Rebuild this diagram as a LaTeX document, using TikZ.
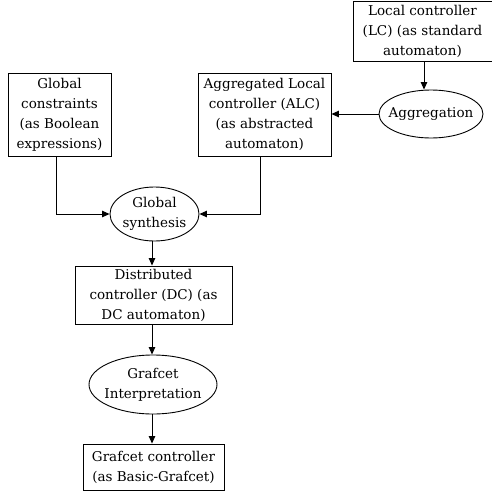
\documentclass[tikz,border=0pt]{standalone}
\usepackage{fontspec}
\setmainfont{DejaVu Serif}
\usetikzlibrary{shapes.geometric,arrows.meta}
\begin{document}
\begin{tikzpicture}[x=1pt,y=-1pt,
  every node/.style={font=\fontsize{13.5}{20}\selectfont, align=center, inner sep=0pt},
  box/.style={draw, line width=0.9pt, rectangle},
  oval/.style={draw, line width=0.9pt, ellipse, inner xsep=-12pt, inner ysep=-10pt},
  conn/.style={line width=0.9pt, -{Triangle[length=7.5pt,width=6.5pt]}}]
\useasboundingbox (0,0) rectangle (492,493);
\node[box, minimum width=139pt, minimum height=60pt] (lc) at (422.5,31) {Local controller\\(LC) (as standard\\automaton)};
\node[oval, minimum width=104pt, minimum height=48pt] (agg) at (431,114) {Aggregation};
\node[box, minimum width=133pt, minimum height=83pt] (alc) at (264.5,114.5) {Aggregated Local\\controller (ALC)\\(as abstracted\\automaton)};
\node[box, minimum width=103pt, minimum height=83pt] (gc) at (59.5,114.5) {Global\\constraints\\(as Boolean\\expressions)};
\node[oval, minimum width=89pt, minimum height=54pt] (gs) at (154.5,214) {Global\\synthesis};
\node[box, minimum width=157pt, minimum height=58pt] (dc) at (153.5,295) {Distributed\\controller (DC) (as\\DC automaton)};
\node[oval, minimum width=128pt, minimum height=59pt] (gi) at (153,384.5) {Grafcet\\Interpretation};
\node[box, minimum width=141pt, minimum height=46pt] (gfc) at (153.5,467) {Grafcet controller\\(as Basic-Grafcet)};
\coordinate (lcout) at (424,61);
\draw[conn] (lcout) -- (lcout |- agg.north);
\draw[conn] (agg.west) -- (alc.east |- agg.west);
\coordinate (gcout) at (56,156);
\coordinate (alcout) at (260,156);
\draw[conn] (gcout) |- (gs.west);
\draw[conn] (alcout) |- (gs.east);
\coordinate (gsout) at (152,241);
\coordinate (dcout) at (152,324);
\coordinate (giout) at (152,414);
\draw[conn] (gsout) -- (gsout |- dc.north);
\draw[conn] (dcout) -- (dcout |- gi.north);
\draw[conn] (giout) -- (giout |- gfc.north);
\end{tikzpicture}
\end{document}
